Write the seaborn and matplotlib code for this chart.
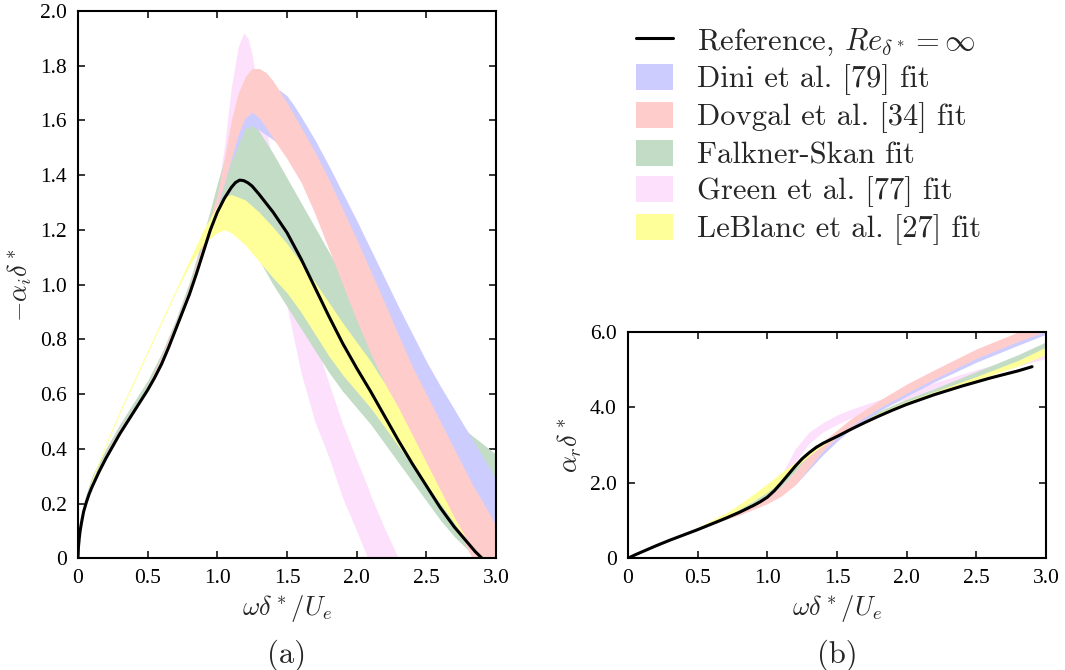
import numpy as np
import pandas as pd
import matplotlib
matplotlib.use("Agg")
import matplotlib.pyplot as plt
import seaborn as sns
from matplotlib.patches import Patch
from matplotlib.lines import Line2D

# ---------------- data: panel (a)  -alpha_i delta* ----------------
XL_REF = [0, 0.003, 0.008, 0.015, 0.025, 0.04, 0.06, 0.08, 0.1, 0.15, 0.2, 0.25, 0.3, 0.35, 0.4, 0.45, 0.5,
          0.55, 0.6, 0.65, 0.7, 0.75, 0.8, 0.85, 0.9, 0.95, 1.0, 1.05, 1.1, 1.13, 1.16, 1.19, 1.22, 1.25,
          1.3, 1.4, 1.5, 1.6, 1.7, 1.8, 1.9, 2.0, 2.1, 2.2, 2.3, 2.4, 2.5, 2.6, 2.7, 2.8, 2.85, 2.9]
YL_REF = [0, 0.04, 0.07, 0.1, 0.13, 0.17, 0.205, 0.235, 0.26, 0.315, 0.365, 0.41, 0.455, 0.495, 0.535, 0.575, 0.615,
          0.66, 0.71, 0.77, 0.835, 0.9, 0.965, 1.04, 1.12, 1.2, 1.265, 1.315, 1.355, 1.373, 1.382, 1.38, 1.372, 1.36,
          1.33, 1.265, 1.19, 1.095, 0.99, 0.885, 0.785, 0.695, 0.61, 0.52, 0.43, 0.345, 0.265, 0.185, 0.115, 0.055,
          0.025, 0.0]

XL_LEB = [0, 0.02, 0.05, 0.1, 0.2, 0.3, 0.4, 0.5, 0.6, 0.7, 0.8, 0.9, 1.0, 1.05, 1.1, 1.2, 1.3, 1.4, 1.5,
          1.6, 1.7, 1.8, 1.9, 2.0, 2.1, 2.2, 2.3, 2.4, 2.5, 2.6, 2.7, 2.8, 2.87]
LEB_UP = [0.06, 0.14, 0.2, 0.29, 0.42, 0.54, 0.65, 0.76, 0.87, 0.98, 1.09, 1.2, 1.29, 1.32, 1.33, 1.31, 1.265, 1.21, 1.15,
          1.08, 1.01, 0.935, 0.86, 0.79, 0.72, 0.64, 0.55, 0.45, 0.35, 0.25, 0.15, 0.06, 0.0]
LEB_LO = [0.05, 0.13, 0.19, 0.28, 0.41, 0.53, 0.64, 0.75, 0.86, 0.97, 1.07, 1.15, 1.19, 1.2, 1.19, 1.145, 1.085, 1.025, 0.97,
          0.90, 0.82, 0.74, 0.67, 0.61, 0.55, 0.48, 0.41, 0.34, 0.27, 0.20, 0.13, 0.06, 0.0]

XL_FS = [0, 0.02, 0.05, 0.1, 0.2, 0.3, 0.4, 0.5, 0.6, 0.7, 0.8, 0.9, 1.0, 1.1, 1.15, 1.2, 1.25, 1.3, 1.4, 1.5,
         1.6, 1.7, 1.8, 1.9, 2.0, 2.1, 2.2, 2.3, 2.4, 2.5, 2.6, 2.7, 2.8, 2.9, 3.0]
FS_UP = [0.01, 0.13, 0.22, 0.3, 0.4, 0.49, 0.57, 0.65, 0.75, 0.87, 1.01, 1.18, 1.37, 1.54, 1.60, 1.615, 1.595, 1.56, 1.48, 1.39,
         1.30, 1.21, 1.12, 1.03, 0.93, 0.825, 0.725, 0.66, 0.615, 0.575, 0.54, 0.50, 0.46, 0.42, 0.38]
FS_LO = [0, 0.11, 0.2, 0.27, 0.375, 0.465, 0.54, 0.62, 0.725, 0.845, 0.98, 1.13, 1.26, 1.30, 1.28, 1.23, 1.16, 1.09, 1.0, 0.92,
         0.84, 0.76, 0.68, 0.61, 0.55, 0.49, 0.42, 0.35, 0.28, 0.21, 0.14, 0.08, 0.03, 0.0, 0.0]

XL_GRE = [0, 0.05, 0.1, 0.2, 0.3, 0.4, 0.5, 0.6, 0.7, 0.8, 0.9, 1.0, 1.05, 1.1, 1.15, 1.19, 1.22, 1.25, 1.3, 1.37,
          1.45, 1.5, 1.6, 1.7, 1.8, 1.9, 2.0, 2.08, 2.1, 2.2, 2.3]
GRE_UP = [0.01, 0.21, 0.28, 0.385, 0.47, 0.55, 0.63, 0.74, 0.86, 1.0, 1.16, 1.34, 1.5, 1.72, 1.87, 1.92, 1.9, 1.84, 1.68, 1.52,
          1.3, 1.18, 0.98, 0.80, 0.64, 0.49, 0.36, 0.26, 0.23, 0.11, 0.0]
GRE_LO = [0, 0.2, 0.275, 0.375, 0.465, 0.54, 0.62, 0.73, 0.85, 0.98, 1.14, 1.3, 1.4, 1.5, 1.55, 1.56, 1.54, 1.48, 1.35, 1.2,
          1.02, 0.92, 0.68, 0.50, 0.37, 0.22, 0.1, 0.0, 0.0, 0.0, 0.0]

XL_DOV = [0, 0.02, 0.05, 0.1, 0.2, 0.3, 0.4, 0.5, 0.6, 0.7, 0.8, 0.9, 1.0, 1.05, 1.1, 1.15, 1.2, 1.25, 1.3, 1.35, 1.4,
          1.5, 1.6, 1.7, 1.8, 1.9, 2.0, 2.1, 2.2, 2.3, 2.4, 2.5, 2.6, 2.7, 2.8, 2.83, 2.9, 3.0]
DOV_UP = [0.01, 0.12, 0.21, 0.28, 0.385, 0.475, 0.55, 0.63, 0.74, 0.86, 0.995, 1.16, 1.33, 1.46, 1.6, 1.7, 1.76, 1.79, 1.79, 1.775,
          1.745, 1.665, 1.575, 1.485, 1.385, 1.275, 1.165, 1.05, 0.935, 0.815, 0.70, 0.60, 0.50, 0.40, 0.30, 0.27, 0.21, 0.12]
DOV_LO = [0, 0.11, 0.2, 0.27, 0.375, 0.465, 0.54, 0.62, 0.73, 0.845, 0.975, 1.135, 1.29, 1.37, 1.46, 1.55, 1.61, 1.63, 1.61, 1.575,
          1.535, 1.46, 1.375, 1.26, 1.13, 1.0, 0.87, 0.75, 0.64, 0.53, 0.43, 0.33, 0.23, 0.13, 0.03, 0.0, 0.0, 0.0]

XL_DIN = [0, 0.02, 0.05, 0.1, 0.2, 0.3, 0.4, 0.5, 0.6, 0.7, 0.8, 0.9, 1.0, 1.1, 1.2, 1.25, 1.3, 1.4, 1.45, 1.5, 1.55,
          1.6, 1.7, 1.8, 1.9, 2.0, 2.1, 2.2, 2.3, 2.4, 2.5, 2.6, 2.7, 2.8, 2.9, 3.0]
DIN_UP = [0.01, 0.11, 0.2, 0.27, 0.375, 0.465, 0.54, 0.62, 0.73, 0.85, 0.985, 1.145, 1.3, 1.5, 1.66, 1.7, 1.72, 1.72, 1.71, 1.69,
          1.655, 1.615, 1.53, 1.435, 1.335, 1.235, 1.13, 1.025, 0.92, 0.82, 0.72, 0.63, 0.545, 0.46, 0.375, 0.29]
DIN_LO = [0, 0.1, 0.195, 0.265, 0.37, 0.46, 0.535, 0.615, 0.725, 0.845, 0.975, 1.135, 1.28, 1.45, 1.57, 1.58, 1.565, 1.53, 1.51,
          1.49, 1.46, 1.42, 1.30, 1.17, 1.04, 0.91, 0.79, 0.68, 0.57, 0.47, 0.37, 0.27, 0.17, 0.08, 0.02, 0.0]

# ---------------- data: panel (b)  alpha_r delta* ----------------
XR_REF = [0, 0.05, 0.1, 0.2, 0.3, 0.4, 0.5, 0.6, 0.7, 0.8, 0.9, 0.95, 1.0, 1.05, 1.1, 1.15, 1.2, 1.25, 1.3, 1.35,
          1.4, 1.45, 1.5, 1.6, 1.7, 1.8, 1.9, 2.0, 2.2, 2.4, 2.6, 2.8, 2.9]
YR_REF = [0, 0.09, 0.17, 0.33, 0.48, 0.62, 0.76, 0.91, 1.06, 1.22, 1.40, 1.5, 1.62, 1.79, 2.0, 2.22, 2.44, 2.64, 2.8, 2.94,
          3.05, 3.14, 3.23, 3.42, 3.60, 3.77, 3.93, 4.08, 4.34, 4.57, 4.78, 4.97, 5.08]

XR = [0, 0.3, 0.5, 0.7, 0.8, 0.9, 1.0, 1.1, 1.2, 1.3, 1.4, 1.5, 1.6, 1.8, 2.0, 2.2, 2.5, 2.8, 3.0]
R_LEB_UP = [0, 0.5, 0.82, 1.2, 1.43, 1.7, 1.98, 2.27, 2.55, 2.8, 3.05, 3.28, 3.47, 3.85, 4.16, 4.42, 4.82, 5.25, 5.6]
R_LEB_LO = [0, 0.48, 0.78, 1.1, 1.3, 1.52, 1.75, 2.05, 2.4, 2.72, 3.0, 3.22, 3.42, 3.8, 4.1, 4.35, 4.72, 5.1, 5.4]
R_FS_UP = [0, 0.49, 0.8, 1.14, 1.32, 1.52, 1.8, 2.17, 2.52, 2.83, 3.1, 3.32, 3.52, 3.9, 4.22, 4.5, 4.95, 5.4, 5.74]
R_FS_LO = [0, 0.48, 0.77, 1.08, 1.23, 1.40, 1.6, 1.9, 2.3, 2.7, 3.02, 3.25, 3.44, 3.82, 4.12, 4.4, 4.8, 5.2, 5.45]
R_DOV_UP = [0, 0.48, 0.78, 1.08, 1.25, 1.42, 1.65, 1.9, 2.3, 2.75, 3.1, 3.4, 3.7, 4.18, 4.62, 5.0, 5.55, 6.0, 6.25]
R_DOV_LO = [0, 0.47, 0.74, 1.03, 1.15, 1.3, 1.45, 1.65, 1.95, 2.4, 2.85, 3.2, 3.5, 3.98, 4.38, 4.76, 5.3, 5.75, 6.02]
R_DIN_UP = [0, 0.48, 0.77, 1.06, 1.22, 1.38, 1.6, 1.85, 2.2, 2.65, 3.0, 3.3, 3.58, 4.05, 4.45, 4.83, 5.36, 5.84, 6.14]
R_DIN_LO = [0, 0.47, 0.74, 1.03, 1.16, 1.32, 1.5, 1.7, 1.95, 2.35, 2.75, 3.1, 3.42, 3.9, 4.3, 4.68, 5.2, 5.65, 5.94]
R_GRE_UP = [0, 0.48, 0.77, 1.07, 1.22, 1.4, 1.62, 2.2, 2.9, 3.35, 3.6, 3.8, 3.95, 4.2, 4.42, 4.66, 5.0, 5.3, 5.5]
R_GRE_LO = [0, 0.47, 0.75, 1.04, 1.18, 1.35, 1.55, 1.95, 2.55, 3.05, 3.35, 3.55, 3.72, 4.0, 4.22, 4.48, 4.8, 5.1, 5.3]

# ---------------- labels ----------------
XTICKS = [0, 0.5, 1.0, 1.5, 2.0, 2.5, 3.0]
XTICK_LABELS = ["0", "0.5", "1.0", "1.5", "2.0", "2.5", "3.0"]
YL_TICKS = [0, 0.2, 0.4, 0.6, 0.8, 1.0, 1.2, 1.4, 1.6, 1.8, 2.0]
YL_TICK_LABELS = ["0", "0.2", "0.4", "0.6", "0.8", "1.0", "1.2", "1.4", "1.6", "1.8", "2.0"]
YR_TICKS = [0, 2, 4, 6]
YR_TICK_LABELS = ["0", "2.0", "4.0", "6.0"]
LEGEND_LABELS = ["Reference, $Re_{\\delta^*}=\\infty$", "Dini et al. [79] fit", "Dovgal et al. [34] fit",
                 "Falkner-Skan fit", "Green et al. [77] fit", "LeBlanc et al. [27] fit"]

COL = {"dini": "#ccccff", "dov": "#ffcccc", "fs": "#c2dcc6", "gre": "#fce0fc", "leb": "#ffff99"}

sns.set_style("ticks")
plt.rcParams["mathtext.fontset"] = "cm"
plt.rcParams["font.family"] = ["Liberation Serif", "DejaVu Serif"]

fig = plt.figure(figsize=(10.65, 6.7), dpi=100)
axL = fig.add_axes([78 / 1065, 111.7 / 670, 418 / 1065, 547.3 / 670])
axR = fig.add_axes([628 / 1065, 111.7 / 670, 418 / 1065, 226.3 / 670])

# panel (a)
axL.fill_between(XL_GRE, GRE_LO, GRE_UP, color=COL["gre"], lw=0)
axL.fill_between(XL_FS, FS_LO, FS_UP, color=COL["fs"], lw=0)
axL.fill_between(XL_DIN, DIN_LO, DIN_UP, color=COL["dini"], lw=0)
axL.fill_between(XL_DOV, DOV_LO, DOV_UP, color=COL["dov"], lw=0)
axL.fill_between(XL_LEB, LEB_LO, LEB_UP, color=COL["leb"], lw=0)
sns.lineplot(x=XL_REF, y=YL_REF, ax=axL, color="black", lw=2.2, sort=False)

# panel (b)
axR.fill_between(XR, R_GRE_LO, R_GRE_UP, color=COL["gre"], lw=0)
axR.fill_between(XR, R_FS_LO, R_FS_UP, color=COL["fs"], lw=0)
axR.fill_between(XR, R_DIN_LO, R_DIN_UP, color=COL["dini"], lw=0)
axR.fill_between(XR, R_DOV_LO, R_DOV_UP, color=COL["dov"], lw=0)
axR.fill_between(XR, R_LEB_LO, R_LEB_UP, color=COL["leb"], lw=0)
sns.lineplot(x=XR_REF, y=YR_REF, ax=axR, color="black", lw=2.2, sort=False)

for ax, yt, ytl, ylim in [(axL, YL_TICKS, YL_TICK_LABELS, (0, 2.0)), (axR, YR_TICKS, YR_TICK_LABELS, (0, 6.0))]:
    ax.set_xlim(0, 3.0)
    ax.set_ylim(*ylim)
    ax.set_xticks(XTICKS)
    ax.set_xticklabels(XTICK_LABELS)
    ax.set_yticks(yt)
    ax.set_yticklabels(ytl)
    ax.tick_params(direction="in", top=True, right=True, length=5, width=1.1, labelsize=15.5, pad=8,
                   colors="black")
    for s in ax.spines.values():
        s.set_linewidth(1.5)
        s.set_color("black")
    ax.set_xlabel(r"$\omega\delta^*/U_e$", fontsize=19, labelpad=3)

axL.set_ylabel(r"$-\alpha_i\delta^*$", fontsize=19, labelpad=4)
axR.set_ylabel(r"$\alpha_r\delta^*$", fontsize=19, labelpad=4)

fig.text(287 / 1065, 1 - 655 / 670, "(a)", family="cmr10", fontsize=22, ha="center", va="center")
fig.text(837 / 1065, 1 - 655 / 670, "(b)", family="cmr10", fontsize=22, ha="center", va="center")

handles = [Line2D([], [], color="black", lw=2.2),
           Patch(color=COL["dini"], lw=0), Patch(color=COL["dov"], lw=0), Patch(color=COL["fs"], lw=0),
           Patch(color=COL["gre"], lw=0), Patch(color=COL["leb"], lw=0)]
fig.legend(handles, LEGEND_LABELS, loc="upper left", bbox_to_anchor=(636 / 1065, 1 - 26 / 670),
           frameon=False, borderpad=0, borderaxespad=0, handlelength=1.21, handleheight=0.92,
           handletextpad=0.78, labelspacing=0.215, prop={"family": "cmr10", "size": 22})

fig.savefig("out.png", dpi=100)
